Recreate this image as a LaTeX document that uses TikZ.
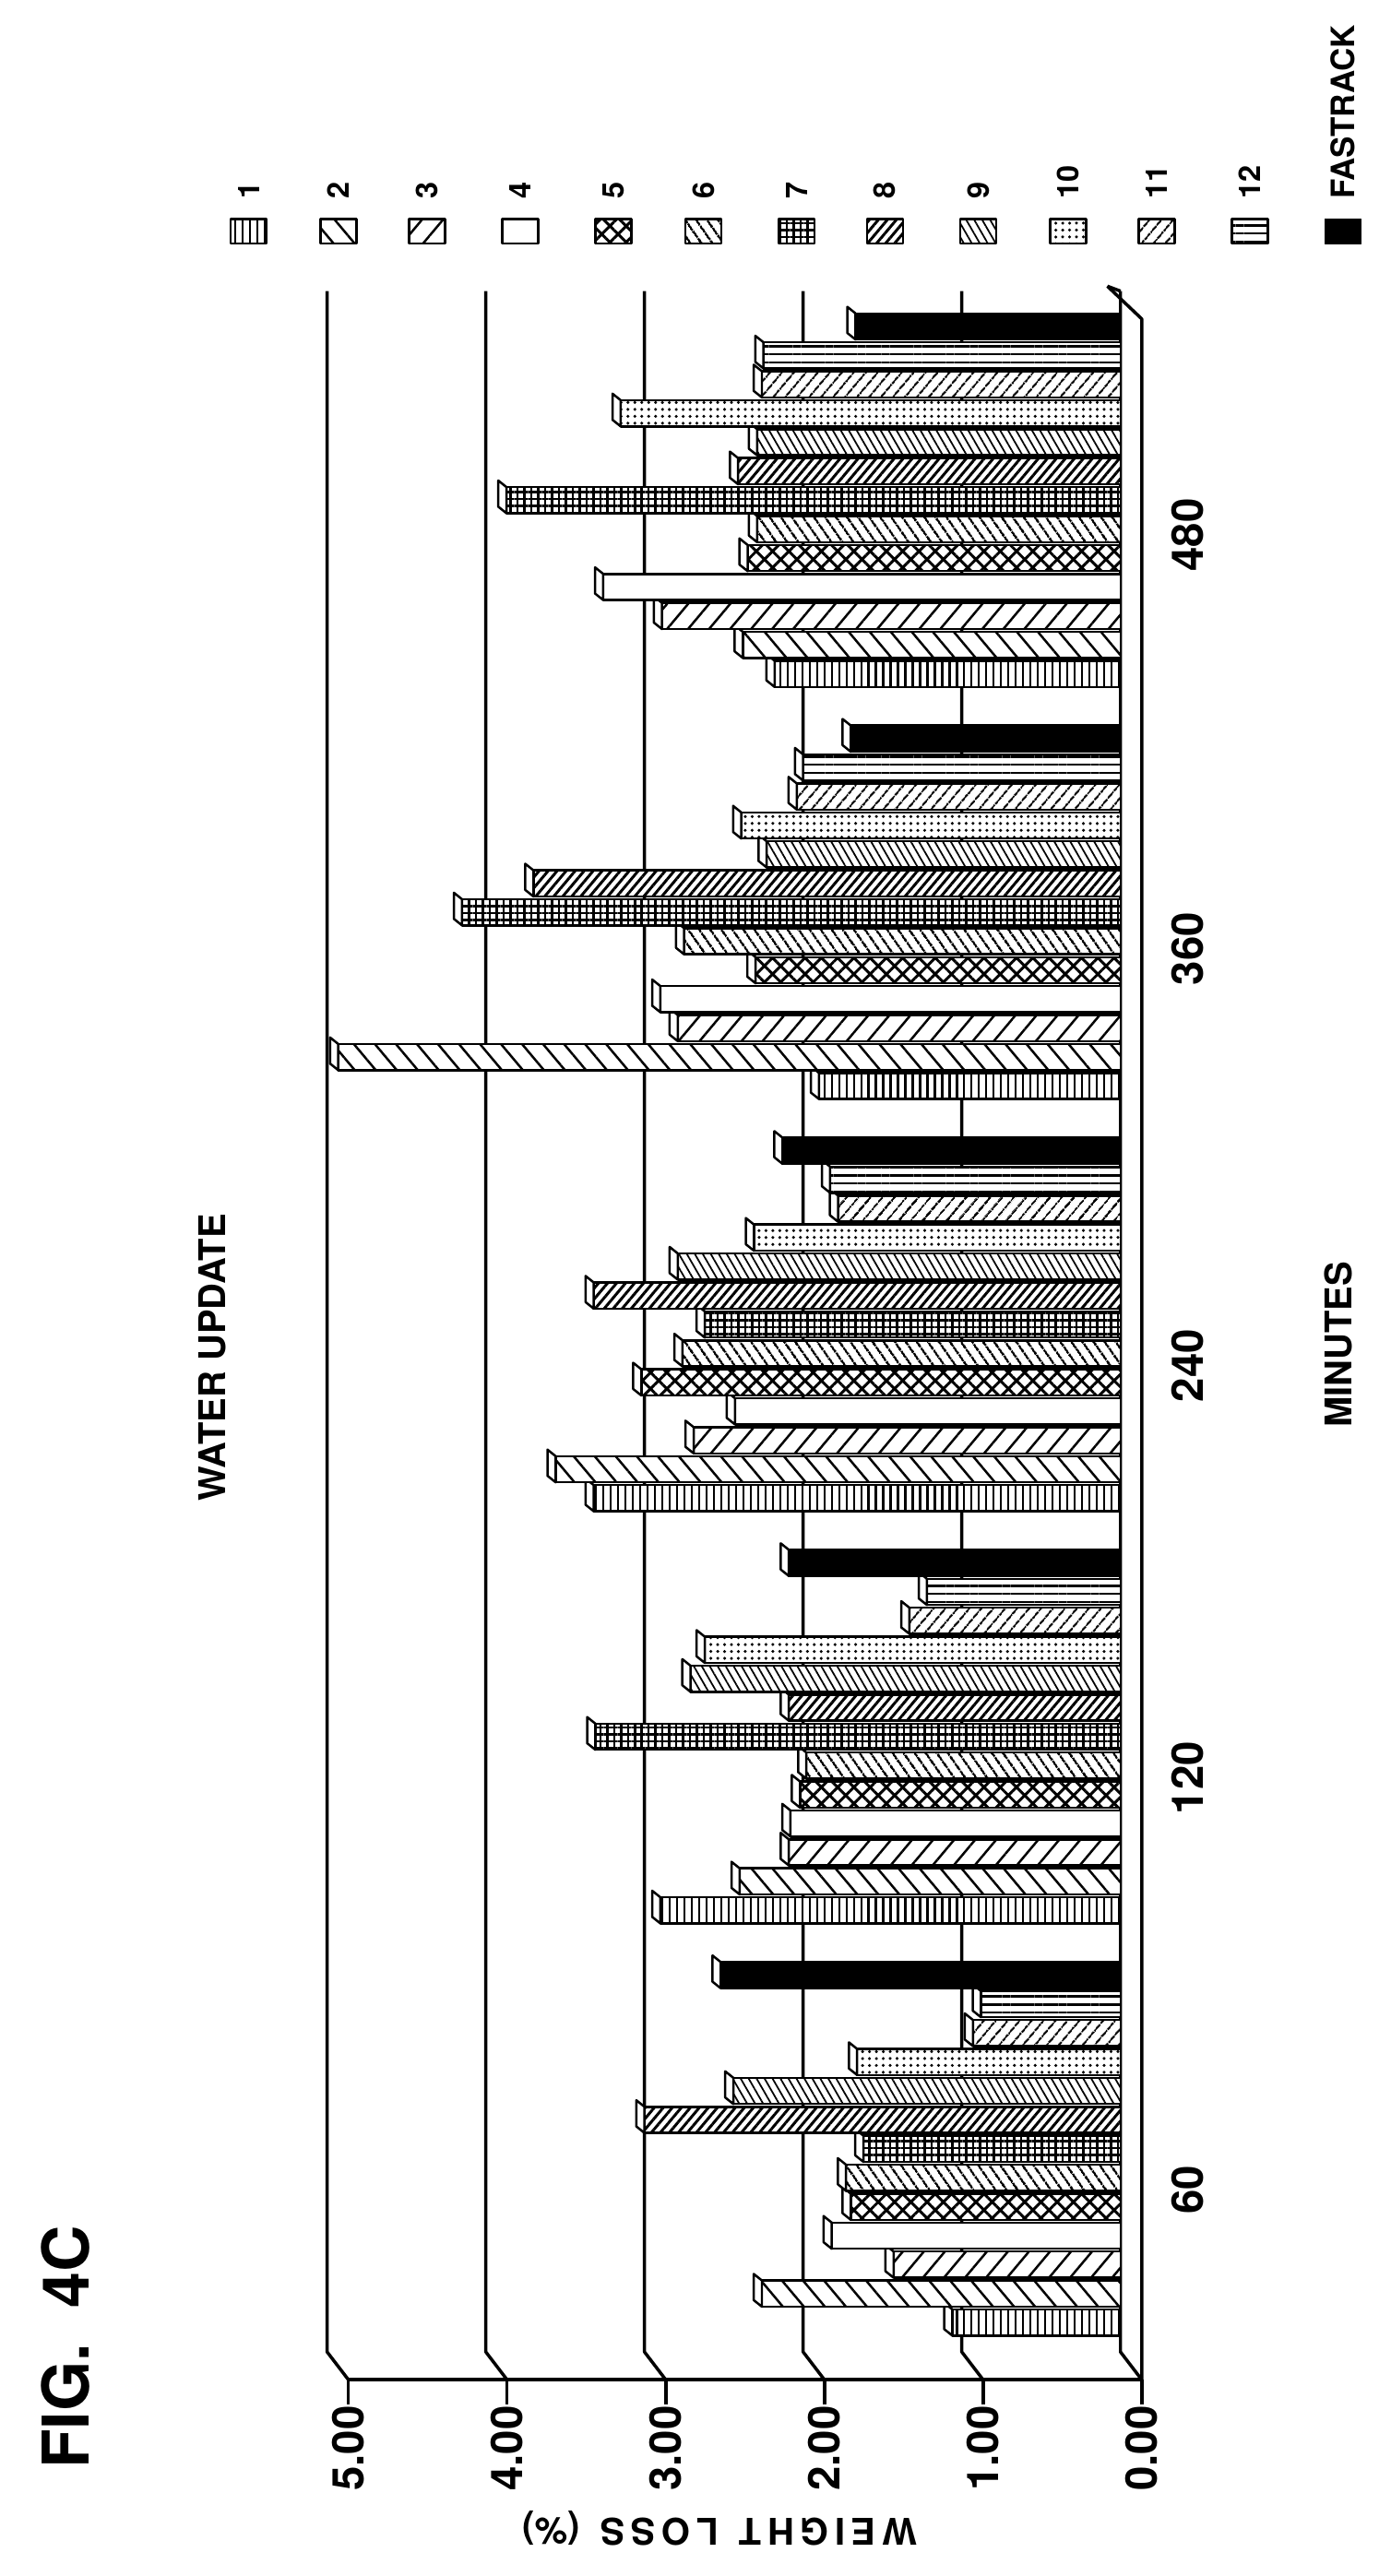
\documentclass[tikz,border=0pt]{standalone}
\usepackage{fontspec}
\setsansfont{TeX Gyre Heros}
\usetikzlibrary{patterns.meta}

\tikzset{
  pat/.style={preaction={fill=white}},
  pat1/.style={pat, pattern={Lines[angle=90,distance=3.2pt,line width=0.9pt]}},
  pat2/.style={pat, pattern={Lines[angle=-50,distance=7pt,line width=1pt]}},
  pat3/.style={pat, pattern={Lines[angle=50,distance=7pt,line width=1pt]}},
  pat4/.style={fill=white},
  pat5/.style={pat, pattern={Hatch[angle=45,distance=5pt,line width=1.2pt]}},
  pat6/.style={pat, pattern={Lines[angle=-55,distance=4pt,line width=1.1pt]}},
  pat7/.style={pat, pattern={Hatch[angle=0,distance=3pt,line width=1pt]}},
  pat8/.style={pat, pattern={Lines[angle=50,distance=3pt,line width=1.2pt]}},
  pat9/.style={pat, pattern={Lines[angle=-60,distance=3pt,line width=0.7pt]}},
  pat10/.style={pat, pattern={Dots[distance=3pt,radius=0.7pt]}},
  pat11/.style={pat, pattern={Lines[angle=50,distance=4pt,line width=0.9pt]}},
  pat12/.style={pat, pattern={Lines[angle=0,distance=3.5pt,line width=1pt]}},
  pat13/.style={fill=black},
  grid/.style={line width=1.4pt},
  lbl/.style={font=\sffamily\bfseries\fontsize{19}{20}\selectfont, rotate=90},
  legnum/.style={font=\sffamily\bfseries\fontsize{13}{14}\selectfont, rotate=90, anchor=west, inner sep=0pt}
}

\begin{document}
\begin{tikzpicture}[x=0.025cm, y=-0.025cm, line join=round]
  \useasboundingbox (0,0) rectangle (850,1575);

  % back wall and floor
  \foreach \g in {200,297,394,491,588,685} {
    \draw[grid] (\g,178) -- (\g,1438) -- ++(13,17) coordinate (t\g);
    \draw[grid] (t\g) -- ++(0,15);
  }
  \draw[grid] (213,1455) -- (698,1455);
  \draw[grid] (677,175) -- (698,195) -- (698,1455);
  \draw[grid] (677,175) -- (685,178);

  % value labels
  \foreach \v [count=\k from 0] in {0.00,1.00,2.00,3.00,4.00,5.00}
    \node[lbl] (val\k) at (698-97*\k,1497) {\v};

  % bars
  \foreach \base/\vals in {1420/{1.06,2.26,1.43,1.82,1.70,1.73,1.62,3.00,2.44,1.66,0.93,0.88,2.52},
                           1168/{2.90,2.40,2.09,2.08,2.02,1.98,3.31,2.09,2.71,2.62,1.33,1.22,2.09},
                           916/{3.32,3.56,2.69,2.43,3.02,2.76,2.62,3.32,2.79,2.31,1.78,1.83,2.13},
                           664/{1.90,4.93,2.79,2.90,2.30,2.75,4.15,3.70,2.23,2.39,2.04,2.00,1.70},
                           412/{2.18,2.38,2.89,3.26,2.35,2.29,3.87,2.41,2.29,3.15,2.26,2.25,1.67}} {
    \foreach \v [count=\i] in \vals {
      \pgfmathsetmacro{\yc}{\base-(\i-1)*17.7}
      \pgfmathsetmacro{\xt}{685-97*\v}
      \draw[pat\i, line width=1pt] (685,\yc+8) rectangle (\xt,\yc-8);
      \draw[fill=white, line width=1pt] (\xt,\yc+8) -- (\xt-5,\yc+4) -- (\xt-5,\yc-12) -- (\xt,\yc-8) -- cycle;
    }
  }

  % category labels
  \foreach \c/\y in {60/1339,120/1087,240/835,360/580,480/327}
    \node[lbl] (cat\c) at (726,\y) {\c};

  % legend
  \foreach \n/\x [count=\i] in {1/152,2/207,3/261,4/318,5/375,6/430,7/487,8/541,9/598,10/653,11/707,12/764} {
    \draw[pat\i, line width=1pt] (\x-11,134) rectangle (\x+11,149);
    \node[legnum] (leg\i) at (\x,122) {\n};
  }
  \draw[pat13] (810,134) rectangle (832,149);
  \node[legnum, font=\sffamily\bfseries\fontsize{14}{15}\selectfont] (leg13) at (821,122) {FASTRACK};

  % titles
  \node[rotate=90, font=\sffamily\bfseries\fontsize{16}{17}\selectfont] (title) at (130,830) {WATER UPDATE};
  \node[rotate=90, font=\sffamily\bfseries\fontsize{16}{17}\selectfont] (xlab) at (818,822) {MINUTES};
  \node[rotate=180, font=\sffamily\bfseries\fontsize{16}{17}\selectfont] (ylab) at (440,1546) {W\,E\,I\,G\,H\,T\ \ L\,O\,S\,S\ \ (\%)};
  \node[rotate=90, font=\sffamily\bfseries\fontsize{28}{30}\selectfont] (fig) at (40,1435) {FIG.\ \ 4C};
\end{tikzpicture}
\end{document}
